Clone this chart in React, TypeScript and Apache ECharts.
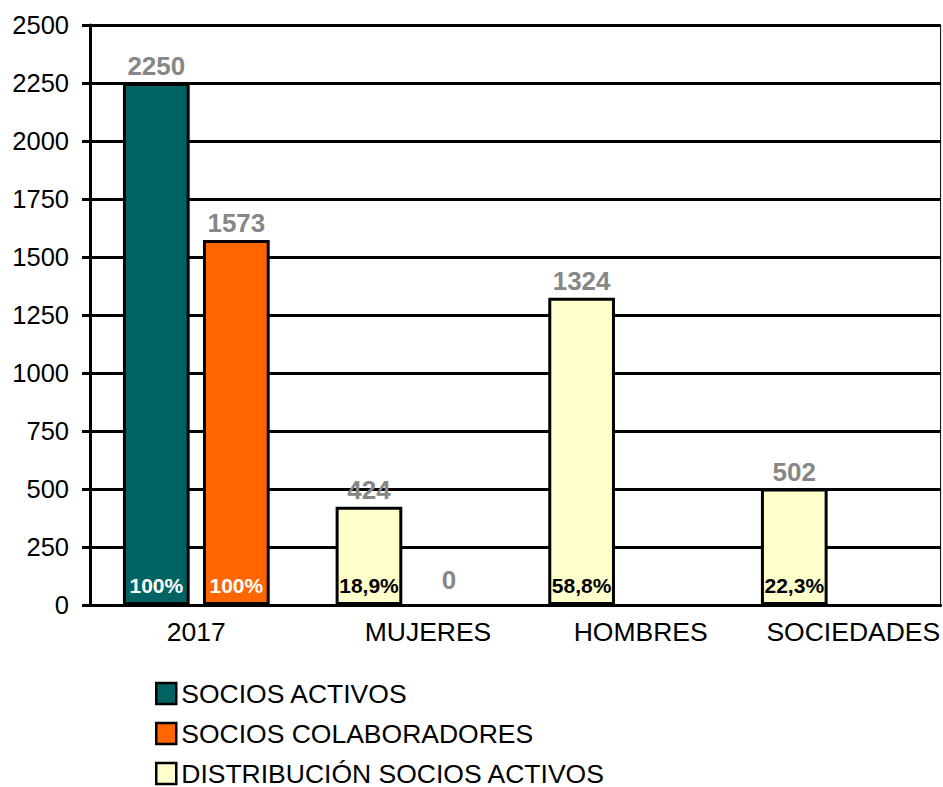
import React, { useEffect, useRef } from "react";
import * as echarts from "echarts";

const categories = ["2017", "MUJERES", "HOMBRES", "SOCIEDADES"];
const sociosActivos: (number | null)[] = [2250, null, null, null];
const sociosColaboradores: (number | null)[] = [1573, 0, null, null];
const distribucion: (number | null)[] = [null, 424, 1324, 502];
const pctActivos: (string | null)[] = ["100%", null, null, null];
const pctColaboradores: (string | null)[] = ["100%", null, null, null];
const pctDistribucion: (string | null)[] = [null, "18,9%", "58,8%", "22,3%"];
const yTicks = { min: 0, max: 2500, interval: 250 };

const FONT = 'Arial, "Liberation Sans", sans-serif';
const TEAL = "#006363";
const ORANGE = "#FF6600";
const YELLOW = "#FFFFCC";
const GRAY = "#878787";

export default function App() {
  const ref = useRef<HTMLDivElement>(null);
  useEffect(() => {
    if (!ref.current) return;
    const chart = echarts.init(ref.current, undefined, { renderer: "svg" });

    const valueLabel = {
      show: true,
      position: "top",
      distance: 4,
      color: GRAY,
      fontWeight: "bold",
      fontSize: 26,
      fontFamily: FONT,
    };
    const toData = (arr: (number | null)[]) =>
      arr.map((v) =>
        v === null
          ? "-"
          : v === 0
          ? { value: 0, label: { distance: 12 }, itemStyle: { borderWidth: 0 } }
          : v
      );

    const pctLabel = (text: string | null, color: string) =>
      text === null
        ? "-"
        : {
            value: 0,
            label: {
              show: true,
              position: "top",
              distance: 9,
              formatter: text,
              color,
              fontWeight: "bold",
              fontSize: 21,
              fontFamily: FONT,
            },
          };

    const helper1 = categories.map((_, i) =>
      pctActivos[i] !== null
        ? pctLabel(pctActivos[i], "#fff")
        : pctLabel(pctDistribucion[i], "#000")
    );
    const helper2 = categories.map((_, i) => pctLabel(pctColaboradores[i], "#fff"));

    const barStyle = (color: string) => ({
      color,
      borderColor: "#000",
      borderWidth: 3,
    });

    chart.setOption({
      animation: false,
      backgroundColor: "#fff",
      textStyle: { fontFamily: FONT },
      grid: {
        left: 90,
        right: 1,
        top: 25,
        bottom: 182,
        show: true,
        borderColor: "#000",
        borderWidth: 1,
        containLabel: false,
      },
      legend: {
        orient: "vertical",
        left: 155,
        top: 680,
        height: 140,
        padding: 0,
        itemWidth: 20,
        itemHeight: 21,
        itemGap: 13,
        icon: "rect",
        itemStyle: { borderColor: "#000", borderWidth: 2.5 },
        textStyle: { fontSize: 26.5, color: "#000", fontFamily: FONT },
        data: ["SOCIOS ACTIVOS", "SOCIOS COLABORADORES", "DISTRIBUCIÓN SOCIOS ACTIVOS"],
      },
      xAxis: {
        type: "category",
        data: categories,
        axisLine: { show: true, lineStyle: { color: "#000", width: 3 } },
        axisTick: { show: false },
        axisLabel: {
          margin: 13,
          interval: 0,
          formatter: (v: string, i: number) => `{${i === 0 ? "a" : "b"}|${v}}`,
          rich: {
            a: { fontSize: 26.5, color: "#000", fontFamily: FONT },
            b: { fontSize: 26.5, color: "#000", fontFamily: FONT, padding: [0, 0, 0, 38] },
          },
        },
      },
      yAxis: {
        type: "value",
        min: yTicks.min,
        max: yTicks.max,
        interval: yTicks.interval,
        axisLine: { show: true, lineStyle: { color: "#000", width: 3 } },
        axisTick: { show: true, length: 8, lineStyle: { color: "#000", width: 3 } },
        axisLabel: {
          fontSize: 25.5,
          color: "#000",
          margin: 21,
          fontFamily: FONT,
          formatter: (v: number) => String(v),
        },
        splitLine: { show: true, lineStyle: { color: "#000", width: 3 } },
      },
      series: [
        {
          name: "helper1",
          type: "bar",
          stack: "s1",
          z: 10,
          barCategoryGap: "31%",
          barGap: "20%",
          itemStyle: { color: "transparent", borderWidth: 0 },
          data: helper1,
          silent: true,
        },
        {
          name: "SOCIOS ACTIVOS",
          type: "bar",
          stack: "s1",
          itemStyle: barStyle(TEAL),
          label: valueLabel,
          data: toData(sociosActivos),
        },
        {
          name: "DISTRIBUCIÓN SOCIOS ACTIVOS",
          type: "bar",
          stack: "s1",
          itemStyle: barStyle(YELLOW),
          label: valueLabel,
          data: toData(distribucion),
        },
        {
          name: "helper2",
          type: "bar",
          stack: "s2",
          z: 10,
          itemStyle: { color: "transparent", borderWidth: 0 },
          data: helper2,
          silent: true,
        },
        {
          name: "SOCIOS COLABORADORES",
          type: "bar",
          stack: "s2",
          itemStyle: barStyle(ORANGE),
          label: valueLabel,
          data: toData(sociosColaboradores),
        },
      ],
    });
    return () => chart.dispose();
  }, []);

  return (
    <div
      ref={ref}
      style={{ position: "fixed", left: 0, top: 0, width: 943, height: 787, background: "#fff" }}
    />
  );
}
